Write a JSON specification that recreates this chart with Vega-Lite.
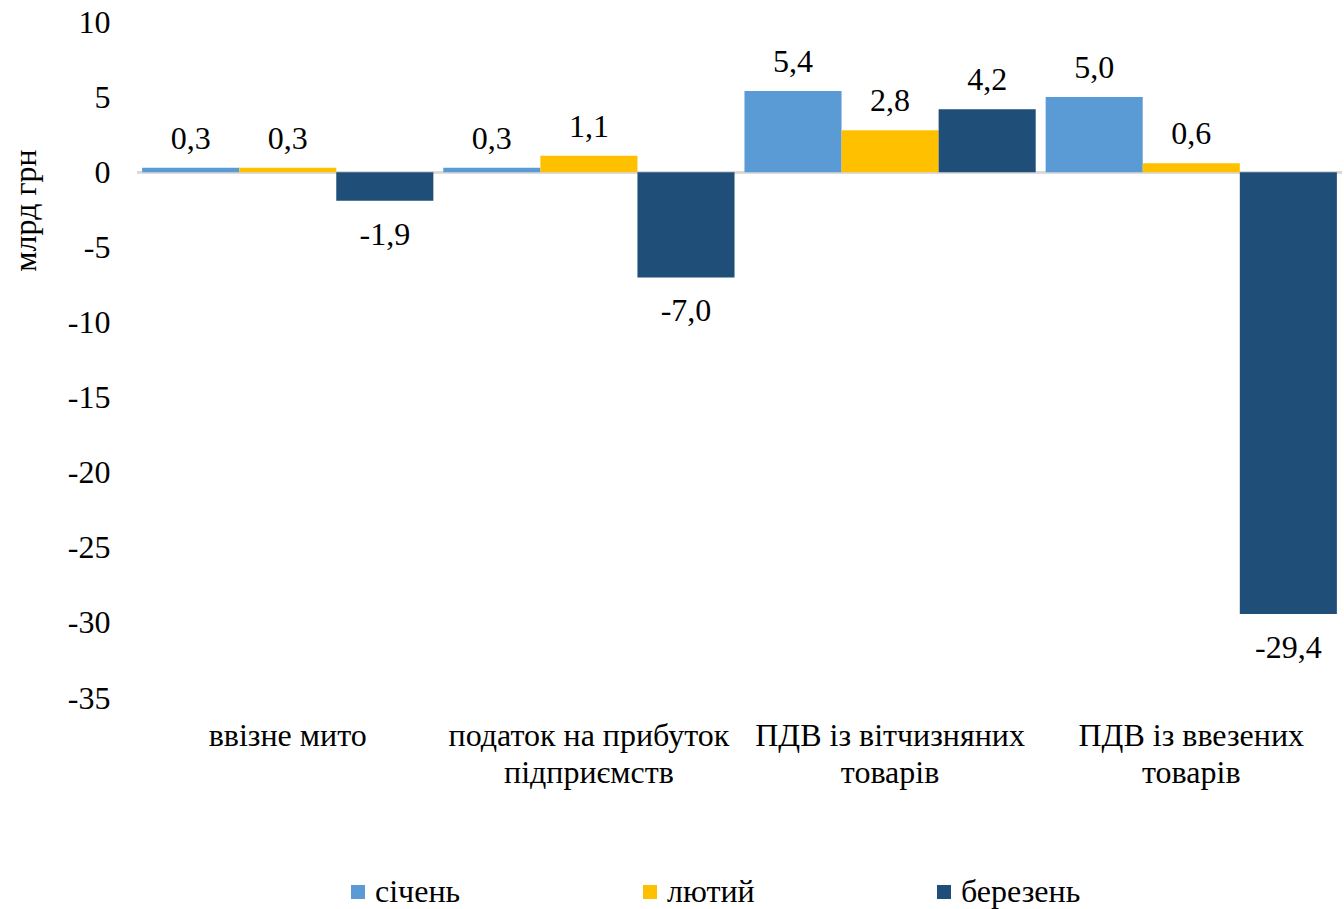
{
  "$schema": "https://vega.github.io/schema/vega-lite/v6.json",
  "autosize": {"type": "none"},
  "width": 1205,
  "height": 676,
  "padding": {"left": 137, "top": 22, "right": 2, "bottom": 211},
  "background": "white",
  "config": {
    "font": "Liberation Serif",
    "view": {"stroke": null},
    "locale": {"number": {"decimal": ",", "thousands": " ", "grouping": [3], "currency": ["", ""], "minus": "-"}}
  },
  "data": {
    "values": [
      {"cat": "ввізне мито", "month": "січень", "value": 0.3},
      {"cat": "ввізне мито", "month": "лютий", "value": 0.3},
      {"cat": "ввізне мито", "month": "березень", "value": -1.9},
      {"cat": "податок на прибуток\nпідприємств", "month": "січень", "value": 0.3},
      {"cat": "податок на прибуток\nпідприємств", "month": "лютий", "value": 1.1},
      {"cat": "податок на прибуток\nпідприємств", "month": "березень", "value": -7.0},
      {"cat": "ПДВ із вітчизняних\nтоварів", "month": "січень", "value": 5.4},
      {"cat": "ПДВ із вітчизняних\nтоварів", "month": "лютий", "value": 2.8},
      {"cat": "ПДВ із вітчизняних\nтоварів", "month": "березень", "value": 4.2},
      {"cat": "ПДВ із ввезених\nтоварів", "month": "січень", "value": 5.0},
      {"cat": "ПДВ із ввезених\nтоварів", "month": "лютий", "value": 0.6},
      {"cat": "ПДВ із ввезених\nтоварів", "month": "березень", "value": -29.4}
    ]
  },
  "encoding": {
    "x": {
      "field": "cat", "type": "nominal", "sort": null,
      "scale": {"paddingInner": 0.033, "paddingOuter": 0.017},
      "axis": {
        "title": null, "orient": "bottom", "domain": false, "ticks": false, "labelAngle": 0,
        "labelExpr": "split(datum.label, '\\n')",
        "labelFont": "Liberation Serif", "labelFontSize": 32, "labelColor": "#000000",
        "labelPadding": 47, "labelLineHeight": 37, "labelBaseline": "alphabetic", "labelLimit": 400
      }
    },
    "xOffset": {
      "field": "month", "type": "nominal",
      "sort": ["січень", "лютий", "березень"],
      "scale": {"paddingInner": 0, "paddingOuter": 0}
    },
    "y": {
      "field": "value", "type": "quantitative",
      "scale": {"domain": [-35, 10], "nice": false, "zero": false},
      "axis": {
        "title": "млрд грн", "titleFont": "Liberation Serif", "titleFontSize": 32, "titleFontWeight": "normal",
        "titleColor": "#000000", "titleX": -112, "titleY": 188, "titleAngle": -90,
        "titleAlign": "center", "titleBaseline": "middle",
        "values": [10, 5, 0, -5, -10, -15, -20, -25, -30, -35],
        "format": "d", "grid": false, "domain": false, "ticks": false,
        "labelFont": "Liberation Serif", "labelFontSize": 32, "labelColor": "#000000", "labelPadding": 27
      }
    }
  },
  "layer": [
    {
      "mark": {"type": "rule", "color": "#d9d9d9", "strokeWidth": 2},
      "encoding": {"x": null, "xOffset": null, "y": {"datum": 0, "type": "quantitative"}}
    },
    {
      "mark": {"type": "bar"},
      "encoding": {
        "color": {
          "field": "month", "type": "nominal",
          "sort": ["січень", "лютий", "березень"],
          "scale": {"domain": ["січень", "лютий", "березень"], "range": ["#5B9BD5", "#FFC000", "#1F4E79"]},
          "legend": {
            "title": null, "orient": "none", "direction": "horizontal",
            "legendX": 205, "legendY": 854,
            "symbolType": "square", "symbolSize": 196, "symbolStrokeWidth": 0,
            "labelFont": "Liberation Serif", "labelFontSize": 32, "labelColor": "#000000",
            "labelOffset": 1, "columnPadding": 173
          }
        }
      }
    },
    {
      "transform": [{"filter": "datum.value >= 0"}],
      "mark": {"type": "text", "baseline": "alphabetic", "dy": -19, "fontSize": 32, "font": "Liberation Serif", "color": "#000000"},
      "encoding": {"text": {"field": "value", "type": "quantitative", "format": ".1f"}}
    },
    {
      "transform": [{"filter": "datum.value < 0"}],
      "mark": {"type": "text", "baseline": "alphabetic", "dy": 44, "fontSize": 32, "font": "Liberation Serif", "color": "#000000"},
      "encoding": {"text": {"field": "value", "type": "quantitative", "format": ".1f"}}
    }
  ]
}
